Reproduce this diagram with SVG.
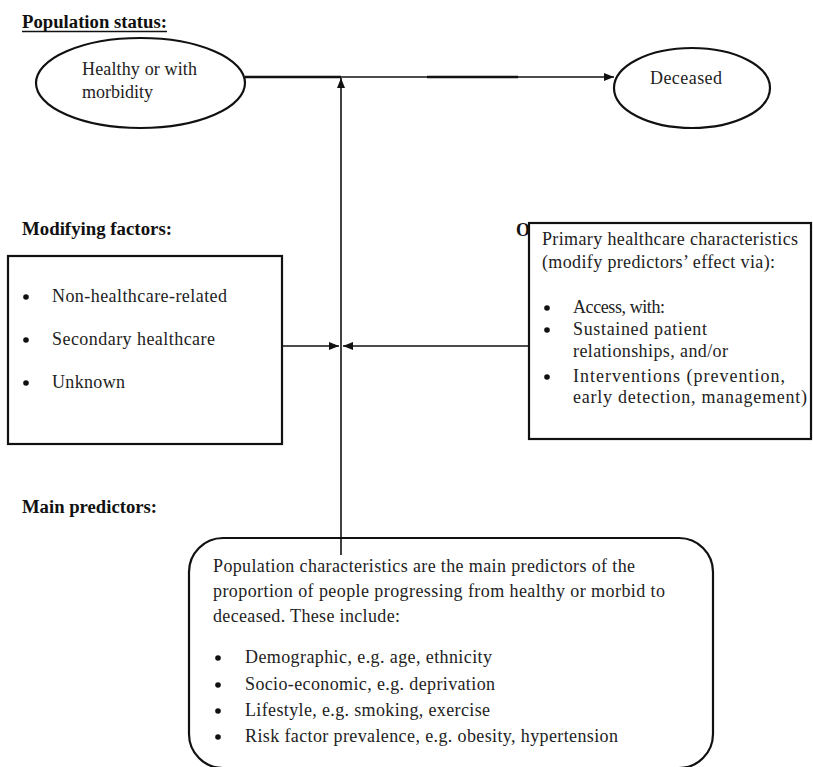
<svg xmlns="http://www.w3.org/2000/svg" width="813" height="767" viewBox="0 0 813 767">
<style>
.lbl{font-family:"Liberation Serif","Times New Roman",serif;font-weight:bold;font-size:18px;fill:#111}
.t{font-family:"Liberation Serif","Times New Roman",serif;font-size:18px;fill:#222}
.shape{fill:#fff;stroke:#111;stroke-width:2.2}
.ln{fill:none;stroke:#111;stroke-width:1.6}
.thick{fill:none;stroke:#111;stroke-width:2.6}
.dot{fill:#111}
</style>
<defs>
<marker id="ah" viewBox="0 0 10 8" refX="10" refY="4" markerWidth="10" markerHeight="8" markerUnits="userSpaceOnUse" orient="auto">
<path d="M0,0 L10,4 L0,8 z" fill="#111"/>
</marker>
</defs>
<rect width="813" height="767" fill="#fff"/>

<g id="labels">
<text class="lbl" x="22" y="28" textLength="145" lengthAdjust="spacingAndGlyphs">Population status:</text>
<line x1="22" y1="31.5" x2="167" y2="31.5" stroke="#111" stroke-width="1.3"/>
<text class="lbl" x="22" y="235" textLength="150" lengthAdjust="spacingAndGlyphs">Modifying factors:</text>
<text class="lbl" x="22" y="513" textLength="135" lengthAdjust="spacingAndGlyphs">Main predictors:</text>
<text class="lbl" x="516" y="236">O</text>
</g>

<g id="node-healthy">
<ellipse class="shape" cx="140.5" cy="83" rx="104.5" ry="45"/>
<text class="t" x="82" y="75" textLength="115" lengthAdjust="spacing">Healthy or with</text>
<text class="t" x="82" y="98">morbidity</text>
</g>

<g id="node-deceased">
<ellipse class="shape" cx="692" cy="88" rx="78" ry="40"/>
<text class="t" x="650" y="84" textLength="72" lengthAdjust="spacing">Deceased</text>
</g>

<g id="node-modifying">
<rect class="shape" x="8" y="256" width="274" height="188"/>
<circle class="dot" cx="26" cy="297" r="2.8"/>
<circle class="dot" cx="26" cy="340" r="2.8"/>
<circle class="dot" cx="26" cy="383" r="2.8"/>
<text class="t" x="52" y="302" textLength="175" lengthAdjust="spacing">Non-healthcare-related</text>
<text class="t" x="52" y="345" textLength="163" lengthAdjust="spacing">Secondary healthcare</text>
<text class="t" x="52" y="388" textLength="73" lengthAdjust="spacing">Unknown</text>
</g>

<g id="node-primary">
<rect class="shape" x="529" y="223" width="282" height="216"/>
<text class="t" x="542" y="245" textLength="256" lengthAdjust="spacing">Primary healthcare characteristics</text>
<text class="t" x="542" y="268" textLength="233" lengthAdjust="spacing">(modify predictors’  effect via):</text>
<circle class="dot" cx="547" cy="308" r="2.8"/>
<circle class="dot" cx="547" cy="330" r="2.8"/>
<circle class="dot" cx="547" cy="377" r="2.8"/>
<text class="t" x="573" y="313" textLength="92" lengthAdjust="spacing">Access, with:</text>
<text class="t" x="573" y="335" textLength="134" lengthAdjust="spacing">Sustained patient</text>
<text class="t" x="573" y="357" textLength="155" lengthAdjust="spacing">relationships, and/or</text>
<text class="t" x="573" y="382" textLength="212" lengthAdjust="spacing">Interventions (prevention,</text>
<text class="t" x="573" y="403" textLength="234" lengthAdjust="spacing">early detection, management)</text>
</g>

<g id="node-population">
<rect class="shape" x="189" y="538" width="524" height="230" rx="34" ry="34"/>
<text class="t" x="213" y="572" textLength="422" lengthAdjust="spacing">Population characteristics are the main predictors of the</text>
<text class="t" x="213" y="597" textLength="452" lengthAdjust="spacing">proportion of people progressing from healthy or morbid to</text>
<text class="t" x="213" y="622" textLength="187" lengthAdjust="spacing">deceased. These include:</text>
<circle class="dot" cx="218" cy="658" r="2.8"/>
<circle class="dot" cx="218" cy="685" r="2.8"/>
<circle class="dot" cx="218" cy="711" r="2.8"/>
<circle class="dot" cx="218" cy="737" r="2.8"/>
<text class="t" x="245" y="663" textLength="247" lengthAdjust="spacing">Demographic, e.g. age, ethnicity</text>
<text class="t" x="245" y="690" textLength="250" lengthAdjust="spacing">Socio-economic, e.g. deprivation</text>
<text class="t" x="245" y="716" textLength="245" lengthAdjust="spacing">Lifestyle, e.g. smoking, exercise</text>
<text class="t" x="245" y="742" textLength="373" lengthAdjust="spacing">Risk factor prevalence, e.g. obesity, hypertension</text>
</g>

<g id="connectors">
<line class="ln" x1="245" y1="77" x2="614" y2="77" marker-end="url(#ah)"/>
<line class="thick" x1="245" y1="77" x2="341" y2="77"/>
<line class="thick" x1="427" y1="77" x2="518" y2="77"/>
<line class="ln" x1="341" y1="555" x2="341" y2="78" marker-end="url(#ah)"/>
<line class="ln" x1="282" y1="346" x2="339" y2="346" marker-end="url(#ah)"/>
<line class="ln" x1="529" y1="346" x2="343" y2="346" marker-end="url(#ah)"/>
</g>
</svg>
